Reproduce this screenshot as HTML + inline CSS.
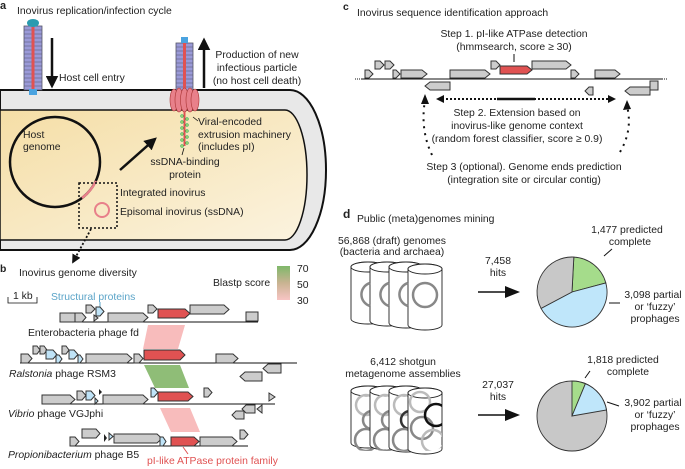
<!DOCTYPE html>
<html><head><meta charset="utf-8"><style>
html,body{margin:0;padding:0;background:#fff;}
svg{display:block;font-family:"Liberation Sans",Arial,sans-serif;}
text{font-size:10.4px;fill:#222;}
.g{fill:#ccc;stroke:#333;stroke-width:1;}
.r{fill:#e05252;stroke:#333;stroke-width:1;}
.b{fill:#bfe3f7;stroke:#333;stroke-width:1;}
.bl{fill:#222;}
</style></head><body>
<svg width="685" height="469" viewBox="0 0 685 469" xmlns="http://www.w3.org/2000/svg">
<defs>
<linearGradient id="cy" x1="0" y1="0" x2="1" y2="1"><stop offset="0" stop-color="#f5dea6"/><stop offset="1" stop-color="#fbf3df"/></linearGradient>
<marker id="ah" viewBox="0 0 10 10" refX="8" refY="5" markerWidth="5" markerHeight="5" orient="auto"><path d="M0,0L10,5L0,10z" fill="#111"/></marker>
<clipPath id="c1"><path d="M351,386 V446 A17,5 0 0 0 385,446 V386 Z"/></clipPath>
<clipPath id="c2"><path d="M370,386 V446 A17,5 0 0 0 404,446 V386 Z"/></clipPath>
<clipPath id="c3"><path d="M389,386 V446 A17,5 0 0 0 423,446 V386 Z"/></clipPath>
<clipPath id="c4"><path d="M408,386 V446 A17,5 0 0 0 442,446 V386 Z"/></clipPath>
</defs>

<!-- Panel a -->
<text x="0" y="9" style="font-weight:bold;font-size:11px">a</text>
<text x="17" y="14">Inovirus replication/infection cycle</text>
<path d="M0,90 H290 A36,80 0 0 1 290,250 H0 Z" fill="#e8e8e8" stroke="#111" stroke-width="2"/>
<path d="M0,110 H285 A22,65 0 0 1 285,240 H0 Z" fill="url(#cy)" stroke="#111" stroke-width="1.5"/>
<rect x="24" y="26" width="18" height="64" fill="#9a9ad8" stroke="#556" stroke-width="0.8"/>
<g stroke="#556" stroke-width="0.5"><path d="M24,30H42M24,34H42M24,38H42M24,42H42M24,46H42M24,50H42M24,54H42M24,58H42M24,62H42M24,66H42M24,70H42M24,74H42M24,78H42M24,82H42M24,86H42"/></g>
<rect x="31.5" y="26" width="3" height="64" fill="#e05252"/>
<ellipse cx="33" cy="23" rx="6" ry="4" fill="#2a9bb0"/>
<rect x="29" y="89" width="8" height="6" fill="#4aa3e0"/>
<line x1="52" y1="38" x2="52" y2="86" stroke="#111" stroke-width="2.5" marker-end="url(#ah)"/>
<text x="59" y="81">Host cell entry</text>
<rect x="176" y="43" width="17" height="48" fill="#9a9ad8" stroke="#556" stroke-width="0.8"/>
<g stroke="#556" stroke-width="0.5"><path d="M176,47H193M176,51H193M176,55H193M176,59H193M176,63H193M176,67H193M176,71H193M176,75H193M176,79H193M176,83H193M176,87H193"/></g>
<rect x="183" y="43" width="3" height="48" fill="#e05252"/>
<rect x="181" y="37" width="7" height="6" fill="#4aa3e0"/>
<g fill="#e8808a" stroke="#a33" stroke-width="0.6">
<ellipse cx="174" cy="100" rx="4" ry="11"/><ellipse cx="179" cy="100" rx="4" ry="12"/><ellipse cx="184.5" cy="100" rx="4" ry="12"/><ellipse cx="190" cy="100" rx="4" ry="12"/><ellipse cx="195" cy="100" rx="4" ry="11"/></g>
<line x1="184.5" y1="112" x2="184.5" y2="146" stroke="#e05252" stroke-width="2"/>
<g fill="#8fd16a" stroke="#2a6" stroke-width="0.5"><circle cx="182" cy="116" r="1.5"/><circle cx="187" cy="119" r="1.5"/><circle cx="182" cy="122" r="1.5"/><circle cx="187" cy="125" r="1.5"/><circle cx="182" cy="128" r="1.5"/><circle cx="187" cy="131" r="1.5"/><circle cx="182" cy="134" r="1.5"/><circle cx="187" cy="137" r="1.5"/><circle cx="182" cy="140" r="1.5"/><circle cx="187" cy="143" r="1.5"/><circle cx="182" cy="146" r="1.5"/></g>
<line x1="204" y1="88" x2="204" y2="40" stroke="#111" stroke-width="2.5" marker-end="url(#ah)"/>
<text x="257" y="58" text-anchor="middle">Production of new</text>
<text x="257" y="71" text-anchor="middle">infectious particle</text>
<text x="257" y="84" text-anchor="middle">(no host cell death)</text>
<text x="198" y="125">Viral-encoded</text>
<text x="198" y="138">extrusion machinery</text>
<text x="198" y="150">(includes pI)</text>
<line x1="193" y1="117" x2="198" y2="121" stroke="#111" stroke-width="0.8"/>
<line x1="184" y1="148" x2="182" y2="155" stroke="#111" stroke-width="0.8"/>
<text x="185" y="165" text-anchor="middle">ssDNA-binding</text>
<text x="185" y="178" text-anchor="middle">protein</text>
<circle cx="55" cy="162" r="45" fill="none" stroke="#111" stroke-width="2.5"/>
<path d="M96,181 A45,45 0 0 1 82,198" fill="none" stroke="#e8808a" stroke-width="2.5"/>
<text x="23" y="138">Host</text>
<text x="23" y="150">genome</text>
<line x1="120" y1="170" x2="155" y2="139" stroke="#111" stroke-width="2.5" marker-end="url(#ah)"/>
<rect x="79" y="183" width="38" height="45" fill="none" stroke="#111" stroke-width="1.5" stroke-dasharray="2,2"/>
<circle cx="102" cy="210" r="7" fill="none" stroke="#e8808a" stroke-width="2"/>
<text x="120" y="196">Integrated inovirus</text>
<text x="120" y="215">Episomal inovirus (ssDNA)</text>
<line x1="91" y1="229" x2="73" y2="262" stroke="#111" stroke-width="1.8" stroke-dasharray="2,2" marker-end="url(#ah)"/>

<!-- Panel b -->
<text x="0" y="272" style="font-weight:bold">b</text>
<text x="19" y="276">Inovirus genome diversity</text>
<defs><linearGradient id="bs" x1="0" y1="0" x2="0" y2="1"><stop offset="0" stop-color="#7fb86a"/><stop offset="0.5" stop-color="#c9b392"/><stop offset="1" stop-color="#f8c4c4"/></linearGradient></defs>
<rect x="277" y="266" width="13" height="34" fill="url(#bs)"/>
<text x="297" y="272">70</text><text x="297" y="288">50</text><text x="297" y="304">30</text>
<text x="213" y="286">Blastp score</text>
<path d="M8,297V303H37V297" fill="none" stroke="#111" stroke-width="0.8"/>
<text x="13" y="299">1 kb</text>
<text x="51" y="300" style="fill:#5ba4c8">Structural proteins</text>
<line x1="100" y1="302" x2="100" y2="307" stroke="#5ba4c8"/>
<polygon points="148,325 185,325 178,349 143,349" fill="#f8bcbc"/>
<polygon points="144,365 180,365 189,388 155,388" fill="#8fbd77"/>
<polygon points="160,408 190,408 200,432 171,432" fill="#f8bcbc"/>
<line x1="60" y1="322" x2="258" y2="322" stroke="#111"/>
<rect class="g" x="60" y="313" width="15" height="9"/>
<polygon class="g" points="75,313 82,313 86,317.5 82,322 75,322"/>
<polygon class="g" points="86,305 91,305 95,309 91,313 86,313"/>
<polygon class="b" points="96,307 100,307 104,311.5 100,316 96,316"/>
<polygon class="g" points="94,315 98,318 94,321"/>
<polygon class="g" points="108,313 143,313 148,317.5 143,322 108,322"/>
<polygon class="g" points="148,305 153,305 157,309 153,313 148,313"/>
<polygon class="r" points="158,309 185,309 190,313.5 185,318 158,318"/>
<polygon class="g" points="190,305 224,305 229,309.5 224,314 190,314"/>
<rect class="g" x="246" y="312" width="12" height="9"/>
<text x="28" y="336">Enterobacteria phage fd</text>
<line x1="20" y1="363" x2="297" y2="363" stroke="#111"/>
<polygon class="g" points="21,354 28,354 32,358.5 28,363 21,363"/>
<polygon class="g" points="33,346 37,346 40,350 37,354 33,354"/>
<polygon class="g" points="40,346 44,346 47,350 44,354 40,354"/>
<polygon class="b" points="46,350 53,350 57,354.5 53,359 46,359"/>
<polygon class="b" points="56,355 59,355 62,359 59,363 56,363"/>
<polygon class="g" points="62,346 66,346 69,350 66,354 62,354"/>
<polygon class="b" points="69,350 74,350 78,354.5 74,359 69,359"/>
<polygon class="b" points="78,355 80,355 83,359 80,363 78,363"/>
<polygon class="g" points="86,354 127,354 132,358.5 127,363 86,363"/>
<polygon class="g" points="134,354 139,354 143,358.5 139,363 134,363"/>
<polygon class="r" points="144,350 180,350 185,355 180,360 144,360"/>
<polygon class="g" points="216,354 233,354 238,358.5 233,363 216,363"/>
<polygon class="g" points="281,364 268,364 263,368.5 268,373 281,373"/>
<polygon class="g" points="262,372 245,372 240,376.5 245,381 262,381"/>
<text x="9" y="377"><tspan font-style="italic">Ralstonia</tspan> phage RSM3</text>
<line x1="42" y1="404" x2="275" y2="404" stroke="#111"/>
<polygon class="g" points="42,395 70,395 75,399.5 70,404 42,404"/>
<polygon class="g" points="77,391 82,391 86,395.5 82,400 77,400"/>
<polygon class="b" points="86,391 91,391 95,395.5 91,400 86,400"/>
<polygon class="b" points="95,398 98,401 95,404"/>
<polygon class="bl" points="99,389 102,392 99,395"/>
<polygon class="g" points="103,395 143,395 148,399.5 143,404 103,404"/>
<polygon class="b" points="151,388 154,388 158,392.5 154,397 151,397"/>
<polygon class="r" points="158,392 188,392 193,396.5 188,401 158,401"/>
<polygon class="g" points="204,388 208,388 212,392.5 208,397 204,397"/>
<polygon class="g" points="269,393 275,397 269,401"/>
<polygon class="g" points="255,405 246,405 242,409 246,413 255,413"/>
<polygon class="g" points="244,411 236,411 232,415 236,419 244,419"/>
<polygon class="g" points="262,405 262,413 257,409"/>
<text x="8" y="417"><tspan font-style="italic">Vibrio</tspan> phage VGJphi</text>
<line x1="70" y1="446" x2="248" y2="446" stroke="#111"/>
<polygon class="g" points="70,437 75,437 79,441.5 75,446 70,446"/>
<polygon class="g" points="82,429 96,429 100,433.5 96,438 82,438"/>
<polygon class="bl" points="104,434 107,438 104,442"/>
<polygon class="b" points="109,433 113,436.5 109,440"/>
<polygon class="g" points="114,434 157,434 162,438.5 157,443 114,443"/>
<polygon class="b" points="160,437 163,437 166,441.5 163,446 160,446"/>
<polygon class="r" points="171,437 194,437 199,441.5 194,446 171,446"/>
<polygon class="g" points="200,437 232,437 237,441.5 232,446 200,446"/>
<polygon class="g" points="240,430 244,430 248,434.5 244,439 240,439"/>
<line x1="183" y1="447" x2="188" y2="454" stroke="#e05252"/>
<text x="8" y="458"><tspan font-style="italic">Propionibacterium</tspan> phage B5</text>
<text x="147" y="464" style="fill:#e05252">pI-like ATPase protein family</text>

<!-- Panel c -->
<text x="343" y="10" style="font-weight:bold">c</text>
<text x="357" y="16">Inovirus sequence identification approach</text>
<text x="514" y="37" text-anchor="middle">Step 1. pI-like ATPase detection</text>
<text x="514" y="50" text-anchor="middle">(hmmsearch, score ≥ 30)</text>
<line x1="514" y1="54" x2="514" y2="62" stroke="#111"/>
<line x1="355" y1="79" x2="668" y2="79" stroke="#111"/>
<line x1="350" y1="79" x2="362" y2="79" stroke="#fff" stroke-width="2" stroke-dasharray="1,1"/>
<line x1="663" y1="79" x2="680" y2="79" stroke="#fff" stroke-width="2" stroke-dasharray="1,1"/>
<polygon class="g" points="365,70 369,70 373,74 369,78 365,78"/>
<polygon class="g" points="375,61 380,61 384,65 380,69 375,69"/>
<polygon class="g" points="385,61 390,61 394,65 390,69 385,69"/>
<polygon class="g" points="393,70 396,70 400,74 396,78 393,78"/>
<polygon class="g" points="401,70 422,70 427,74 422,78 401,78"/>
<polygon class="g" points="450,70 485,70 490,74 485,78 450,78"/>
<polygon class="g" points="491,61 496,61 500,65 496,69 491,69"/>
<polygon class="r" points="500,66 527,66 532,70 527,74 500,74"/>
<polygon class="g" points="532,61 566,61 571,65 566,69 532,69"/>
<polygon class="g" points="571,70 575,70 579,74 575,78 571,78"/>
<polygon class="g" points="595,70 615,70 620,74 615,78 595,78"/>
<polygon class="g" points="450,82 430,82 425,86 430,90 450,90"/>
<polygon class="g" points="593,87 589,87 585,91 589,95 593,95"/>
<polygon class="g" points="650,87 630,87 625,91 630,95 650,95"/>
<rect class="g" x="650" y="81" width="8" height="9"/>
<line x1="442" y1="99" x2="610" y2="99" stroke="#111" stroke-width="2" stroke-dasharray="2,2"/>
<line x1="497" y1="99" x2="535" y2="99" stroke="#111" stroke-width="2.5"/>
<polygon points="436,99 444,95 444,103" fill="#111"/><polygon points="616,99 608,95 608,103" fill="#111"/>
<text x="517" y="116" text-anchor="middle">Step 2. Extension based on</text>
<text x="517" y="129" text-anchor="middle">inovirus-like genome context</text>
<text x="517" y="142" text-anchor="middle">(random forest classifier, score ≥ 0.9)</text>
<path d="M432,155 Q420,130 425,100" fill="none" stroke="#111" stroke-width="2" stroke-dasharray="2,5"/>
<polygon points="425,94 421,104 429,104" fill="#111"/>
<path d="M620,152 Q633,130 627,106" fill="none" stroke="#111" stroke-width="2" stroke-dasharray="2,5"/>
<polygon points="627,100 623,110 631,109" fill="#111"/>
<text x="524" y="170" text-anchor="middle">Step 3 (optional). Genome ends prediction</text>
<text x="524" y="183" text-anchor="middle">(integration site or circular contig)</text>

<!-- Panel d -->
<text x="343" y="218" style="font-weight:bold;font-size:12px">d</text>
<text x="357" y="222">Public (meta)genomes mining</text>
<text x="392" y="244" text-anchor="middle">56,868 (draft) genomes</text>
<text x="392" y="255" text-anchor="middle">(bacteria and archaea)</text>
<g stroke="#222" stroke-width="0.9" fill="#fff">
<path d="M351,267 V319 A17,5 0 0 0 385,319 V267 A17,5 0 0 0 351,267 Z"/><ellipse cx="368" cy="267" rx="17" ry="5"/>
<path d="M370,267 V321 A17,5 0 0 0 404,321 V267 A17,5 0 0 0 370,267 Z"/><ellipse cx="387" cy="267" rx="17" ry="5"/>
<path d="M389,267 V323 A17,5 0 0 0 423,323 V267 A17,5 0 0 0 389,267 Z"/><ellipse cx="406" cy="267" rx="17" ry="5"/>
<path d="M408,269 V325 A17,5 0 0 0 442,325 V269 A17,5 0 0 0 408,269 Z"/><ellipse cx="425" cy="269" rx="17" ry="5"/>
</g>
<g fill="none" stroke="#888" stroke-width="2.5">
<path d="M370,283 A12,12 0 0 0 370,306"/><path d="M389,283 A12,12 0 0 0 389,306"/><path d="M408,283 A12,12 0 0 0 408,306"/>
<circle cx="425" cy="295" r="12"/></g>
<text x="498" y="264" text-anchor="middle">7,458</text><text x="498" y="276" text-anchor="middle">hits</text>
<line x1="478" y1="292" x2="512" y2="292" stroke="#111" stroke-width="1.5"/><polygon points="520,292 505,286 505,298" fill="#111"/>
<g stroke="#333" stroke-width="0.9">
<path d="M572,292 L572,257 A35,35 0 0 1 605.3,281.2 Z" fill="#a5dc8b" transform="rotate(3 572 292)"/>
<path d="M572,292 L605.3,281.2 A35,35 0 0 1 542,310 Z" fill="#bfe6fa" transform="rotate(3 572 292)"/>
<path d="M572,292 L542,310 A35,35 0 0 1 572,257 Z" fill="#c8c8c8" transform="rotate(3 572 292)"/>
</g>
<text x="627" y="233" text-anchor="middle">1,477 predicted</text><text x="630" y="245" text-anchor="middle">complete</text>
<line x1="604" y1="256" x2="612" y2="249" stroke="#111"/>
<text x="653" y="298" text-anchor="middle">3,098 partial</text><text x="655" y="310" text-anchor="middle">or ‘fuzzy’</text><text x="655" y="322" text-anchor="middle">prophages</text>
<line x1="609" y1="303" x2="620" y2="303" stroke="#111"/>
<text x="403" y="365" text-anchor="middle">6,412 shotgun</text>
<text x="403" y="377" text-anchor="middle">metagenome assemblies</text>
<g stroke="#222" stroke-width="0.9" fill="#fff">
<path d="M351,391 V443 A17,5 0 0 0 385,443 V391 A17,5 0 0 0 351,391 Z"/><ellipse cx="368" cy="391" rx="17" ry="5"/>
</g>
<g fill="none" stroke-width="2.5" clip-path="url(#c1)"><circle cx="366" cy="405" r="10" stroke="#bbb"/><circle cx="372" cy="420" r="9" stroke="#888"/><circle cx="366" cy="440" r="11" stroke="#888"/></g>
<g stroke="#222" stroke-width="0.9" fill="#fff"><path d="M370,391 V445 A17,5 0 0 0 404,445 V391 A17,5 0 0 0 370,391 Z"/><ellipse cx="387" cy="391" rx="17" ry="5"/></g>
<g fill="none" stroke-width="2.5" clip-path="url(#c2)"><circle cx="385" cy="405" r="10" stroke="#bbb"/><circle cx="391" cy="420" r="9" stroke="#888"/><circle cx="385" cy="440" r="11" stroke="#888"/></g>
<g stroke="#222" stroke-width="0.9" fill="#fff"><path d="M389,391 V447 A17,5 0 0 0 423,447 V391 A17,5 0 0 0 389,391 Z"/><ellipse cx="406" cy="391" rx="17" ry="5"/></g>
<g fill="none" stroke-width="2.5" clip-path="url(#c3)"><circle cx="404" cy="405" r="10" stroke="#bbb"/><circle cx="410" cy="420" r="9" stroke="#333"/><circle cx="404" cy="440" r="11" stroke="#888"/></g>
<g stroke="#222" stroke-width="0.9" fill="#fff"><path d="M408,393 V449 A17,5 0 0 0 442,449 V393 A17,5 0 0 0 408,393 Z"/><ellipse cx="425" cy="393" rx="17" ry="5"/></g>
<g fill="none" stroke-width="2.5" clip-path="url(#c4)"><circle cx="420" cy="402" r="10" stroke="#bbb"/><circle cx="422" cy="428" r="11" stroke="#888"/><circle cx="433" cy="441" r="11" stroke="#bbb"/><circle cx="436" cy="415" r="11" stroke="#111"/></g>
<text x="498" y="388" text-anchor="middle">27,037</text><text x="498" y="400" text-anchor="middle">hits</text>
<line x1="478" y1="415" x2="512" y2="415" stroke="#111" stroke-width="1.5"/><polygon points="520,415 505,409 505,421" fill="#111"/>
<g stroke="#333" stroke-width="0.9">
<circle cx="572" cy="416" r="35" fill="#c8c8c8"/>
<path d="M572,416 L572,381 A35,35 0 0 1 585.4,383.7 Z" fill="#a5dc8b"/>
<path d="M572,416 L585.4,383.7 A35,35 0 0 1 606.5,410 Z" fill="#bfe6fa"/>
</g>
<text x="623" y="363" text-anchor="middle">1,818 predicted</text><text x="628" y="375" text-anchor="middle">complete</text>
<line x1="585" y1="378" x2="590" y2="371" stroke="#111"/>
<text x="653" y="406" text-anchor="middle">3,902 partial</text><text x="655" y="418" text-anchor="middle">or ‘fuzzy’</text><text x="655" y="430" text-anchor="middle">prophages</text>
<line x1="607" y1="402" x2="619" y2="406" stroke="#111"/>
</svg>
</body></html>
